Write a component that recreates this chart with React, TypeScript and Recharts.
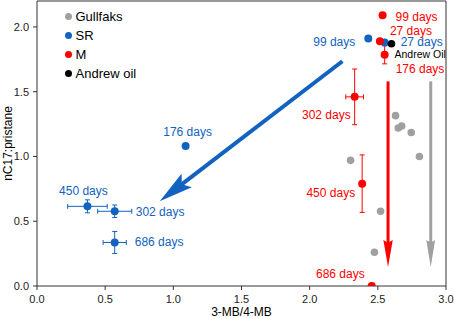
import React from 'react';
import { ScatterChart, Scatter, XAxis, YAxis, ErrorBar, ReferenceLine, Legend } from 'recharts';

// ---------- data ----------
const gullfaksX = [2.63, 2.65, 2.675, 2.745, 2.805, 2.30, 2.52, 2.475];
const gullfaksY = [1.315, 1.22, 1.235, 1.185, 1.0, 0.97, 0.577, 0.26];

const srLabels = ['99 days', '27 days', '176 days', '450 days', '302 days', '686 days'];
const srX = [2.43, 2.55, 1.09, 0.37, 0.57, 0.57];
const srY = [1.91, 1.88, 1.08, 0.615, 0.577, 0.336];
const srXErr = [null, null, null, 0.145, 0.125, 0.085];
const srYErr = [null, null, null, 0.05, 0.048, 0.085];

const mLabels = ['99 days', '27 days', '176 days', '302 days', '450 days', '686 days'];
const mX = [2.535, 2.515, 2.55, 2.33, 2.385, 2.455];
const mY = [2.09, 1.89, 1.785, 1.46, 0.79, 0.0];
const mXErr = [null, null, null, 0.065, null, null];
const mYErr = [null, null, 0.07, 0.215, 0.222, null];

const andrewLabels = ['Andrew Oil'];
const andrewX = [2.6];
const andrewY = [1.87];

const arrowNames = ['SR', 'M', 'Gullfaks'];
const arrowFromX = [2.24, 2.575, 2.888];
const arrowFromY = [1.735, 1.58, 1.58];
const arrowToX = [0.9, 2.575, 2.888];
const arrowToY = [0.655, 0.147, 0.147];

const legendOrder = ['Gullfaks', 'SR', 'M', 'Andrew oil'];
const xTicks = [0, 0.5, 1.0, 1.5, 2.0, 2.5, 3.0];
const yTicks = [0, 0.5, 1.0, 1.5, 2.0];

// ---------- styles ----------
const BLUE = '#1262c0';
const RED = '#ff0000';
const GRAY = '#a0a0a0';
const BLACK = '#000000';
const AXIS = '#333333';

const seriesColor: Record<string, string> = {
  Gullfaks: GRAY,
  SR: BLUE,
  M: RED,
  'Andrew oil': BLACK,
};

const labelPlacement: Record<string, { dx: number; dy: number; anchor: string; size?: number }> = {
  'SR|99 days': { dx: -13, dy: 3, anchor: 'end' },
  'SR|27 days': { dx: 16, dy: 0, anchor: 'start' },
  'SR|176 days': { dx: 2, dy: -14, anchor: 'middle' },
  'SR|450 days': { dx: -4, dy: -15, anchor: 'middle' },
  'SR|302 days': { dx: 21, dy: 1, anchor: 'start' },
  'SR|686 days': { dx: 20, dy: 0, anchor: 'start' },
  'M|99 days': { dx: 13, dy: 2, anchor: 'start' },
  'M|27 days': { dx: 10, dy: -10.5, anchor: 'start' },
  'M|176 days': { dx: 11, dy: 14, anchor: 'start' },
  'M|302 days': { dx: -4, dy: 18, anchor: 'end' },
  'M|450 days': { dx: -7, dy: 9, anchor: 'end' },
  'M|686 days': { dx: -7, dy: -12, anchor: 'end' },
  'Andrew|Andrew Oil': { dx: 3, dy: 10, anchor: 'start', size: 10.5 },
};

const arrowStyle: Record<string, { color: string; shaft: number; headLen: number; headHalf: number; notch: number }> = {
  SR: { color: BLUE, shaft: 4, headLen: 34, headHalf: 8.5, notch: 0.82 },
  M: { color: RED, shaft: 3, headLen: 27, headHalf: 4.7, notch: 0.9 },
  Gullfaks: { color: GRAY, shaft: 3, headLen: 27, headHalf: 4.4, notch: 0.9 },
};

// ---------- build tables ----------
const build = (xs: number[], ys: number[], labels?: string[], xe?: (number | null)[], ye?: (number | null)[]) =>
  xs.map((x, i) => ({
    x,
    y: ys[i],
    label: labels ? labels[i] : undefined,
    ex: xe && xe[i] != null ? xe[i] : undefined,
    ey: ye && ye[i] != null ? ye[i] : undefined,
  }));

const gullfaksData = build(gullfaksX, gullfaksY);
const srData = build(srX, srY, srLabels, srXErr, srYErr);
const mData = build(mX, mY, mLabels, mXErr, mYErr);
const andrewData = build(andrewX, andrewY, andrewLabels);

const makeDot = (series: string, color: string, r: number) => (props: any) => {
  const { cx, cy, payload } = props;
  if (cx == null || cy == null) return <g />;
  const lab = payload && payload.label;
  const pl = lab ? labelPlacement[`${series}|${lab}`] : undefined;
  return (
    <g>
      <circle cx={cx} cy={cy} r={r} fill={color} />
      {lab && pl ? (
        <text
          x={cx + pl.dx}
          y={cy + pl.dy}
          textAnchor={pl.anchor as any}
          dominantBaseline="central"
          fontSize={pl.size || 12}
          fill={color}
        >
          {lab}
        </text>
      ) : null}
    </g>
  );
};

const makeArrow = (name: string) => (props: any) => {
  const { x1, y1, x2, y2 } = props;
  const s = arrowStyle[name];
  const dx = x2 - x1;
  const dy = y2 - y1;
  const len = Math.hypot(dx, dy) || 1;
  const ux = dx / len;
  const uy = dy / len;
  const px = -uy;
  const py = ux;
  const bx = x2 - ux * s.headLen;
  const by = y2 - uy * s.headLen;
  const nx = x2 - ux * s.headLen * s.notch;
  const ny = y2 - uy * s.headLen * s.notch;
  return (
    <g>
      <line x1={x1} y1={y1} x2={nx + ux} y2={ny + uy} stroke={s.color} strokeWidth={s.shaft} />
      <polygon
        points={`${x2},${y2} ${bx + px * s.headHalf},${by + py * s.headHalf} ${nx},${ny} ${bx - px * s.headHalf},${by - py * s.headHalf}`}
        fill={s.color}
      />
    </g>
  );
};

const renderLegend = (props: any) => {
  const payload = [...(props.payload || [])].sort(
    (a: any, b: any) => legendOrder.indexOf(a.value) - legendOrder.indexOf(b.value)
  );
  return (
    <div style={{ fontSize: 13, color: '#000' }}>
      {payload.map((e: any) => (
        <div key={e.value} style={{ display: 'flex', alignItems: 'center', height: 19, whiteSpace: 'nowrap' }}>
          <span
            style={{
              width: 7,
              height: 7,
              borderRadius: '50%',
              background: seriesColor[e.value] || e.color,
              display: 'inline-block',
              marginRight: 4,
            }}
          />
          <span>{e.value}</span>
        </div>
      ))}
    </div>
  );
};

const YTitle = (props: any) => {
  const vb = props.viewBox || { y: 1, height: 285 };
  const cy = vb.y + vb.height / 2;
  return (
    <text x={8} y={cy} transform={`rotate(-90, 8, ${cy})`} textAnchor="middle" dominantBaseline="central" fontSize={12} fill="#000">
      nC17:pristane
    </text>
  );
};

export default function App() {
  return (
    <div style={{ fontFamily: '"Liberation Sans", Arial, sans-serif', width: 454, height: 318 }}>
      <style>{'body{margin:0;}'}</style>
      <ScatterChart width={454} height={318} margin={{ top: 1, right: 8, bottom: 2, left: 0 }}>
        <XAxis
          type="number"
          dataKey="x"
          domain={[0, 3]}
          ticks={xTicks}
          allowDataOverflow
          tickFormatter={(v: number) => v.toFixed(1)}
          tick={{ fontSize: 11, fill: '#222' }}
          tickSize={4}
          tickMargin={5}
          stroke={AXIS}
          height={30}
          label={{ value: '3-MB/4-MB', position: 'insideBottom', offset: 0, fontSize: 12, fill: '#000' }}
        />
        <YAxis
          type="number"
          dataKey="y"
          domain={[0, 2.2]}
          ticks={yTicks}
          allowDataOverflow
          tickFormatter={(v: number) => v.toFixed(1)}
          tick={{ fontSize: 11, fill: '#222' }}
          tickSize={4}
          tickMargin={4}
          stroke={AXIS}
          width={37}
          label={<YTitle />}
        />
        <ReferenceLine y={2.2} stroke={AXIS} ifOverflow="visible" />
        <ReferenceLine x={3} stroke={AXIS} ifOverflow="visible" />
        {arrowNames.map((n, i) => (
          <ReferenceLine
            key={n}
            ifOverflow="visible"
            segment={[
              { x: arrowFromX[i], y: arrowFromY[i] },
              { x: arrowToX[i], y: arrowToY[i] },
            ]}
            shape={makeArrow(n)}
          />
        ))}
        <Legend
          layout="horizontal"
          align="center"
          verticalAlign="middle"
          itemSorter={null as any}
          content={renderLegend}
          wrapperStyle={{ position: 'absolute', top: 6.5, left: 64.5, width: 'auto', height: 'auto' }}
        />
        <Scatter name="Gullfaks" data={gullfaksData} fill={GRAY} shape={makeDot('Gullfaks', GRAY, 3.8)} isAnimationActive={false} />
        <Scatter name="SR" data={srData} fill={BLUE} shape={makeDot('SR', BLUE, 4)} isAnimationActive={false}>
          <ErrorBar dataKey="ex" direction="x" width={2.5} stroke={BLUE} strokeWidth={1} />
          <ErrorBar dataKey="ey" direction="y" width={2.5} stroke={BLUE} strokeWidth={1} />
        </Scatter>
        <Scatter name="M" data={mData} fill={RED} shape={makeDot('M', RED, 4)} isAnimationActive={false}>
          <ErrorBar dataKey="ex" direction="x" width={2.5} stroke={RED} strokeWidth={1} />
          <ErrorBar dataKey="ey" direction="y" width={2.5} stroke={RED} strokeWidth={1} />
        </Scatter>
        <Scatter name="Andrew oil" data={andrewData} fill={BLACK} shape={makeDot('Andrew', BLACK, 3.8)} isAnimationActive={false} />
      </ScatterChart>
    </div>
  );
}
